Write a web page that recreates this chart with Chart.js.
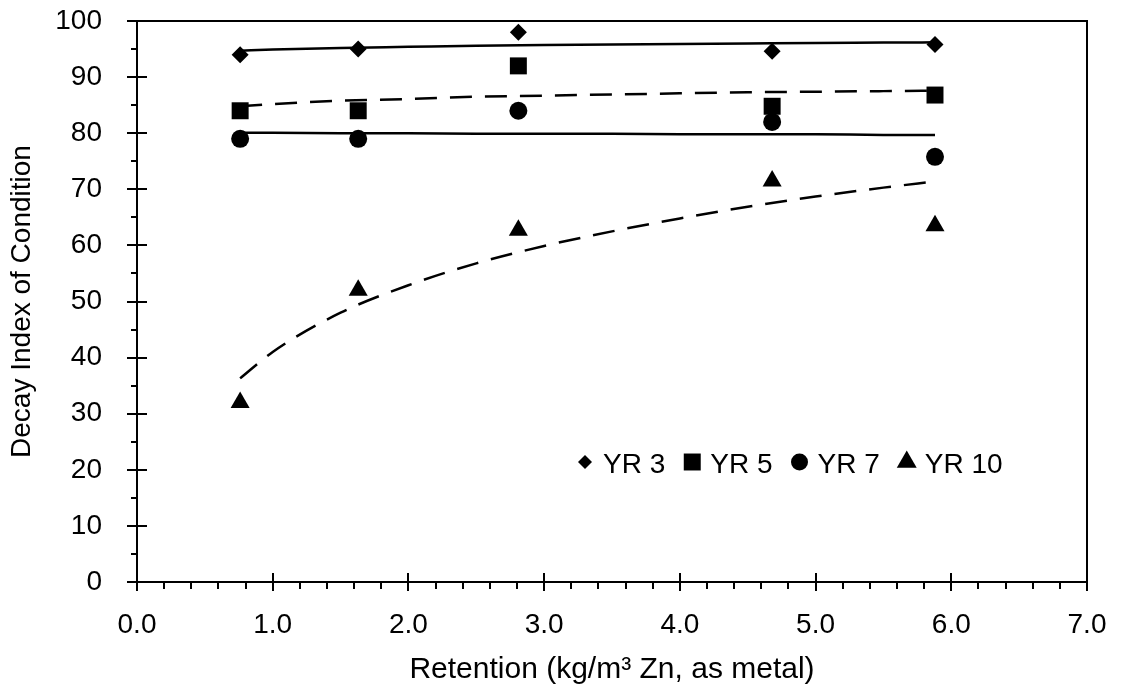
<!DOCTYPE html>
<html><head><meta charset="utf-8">
<script src="https://cdn.jsdelivr.net/npm/chart.js@4.4.1/dist/chart.umd.min.js"></script>
<style>html,body{margin:0;padding:0;background:#fff;}#wrap{width:1127px;height:694px;}</style>
</head><body><div id="wrap"><canvas id="c" width="1127" height="694"></canvas></div>
<script>
// ---- data ----
const retention = [0.76, 1.63, 2.81, 4.68, 5.88];
const yr3 = [94, 95, 98, 94.6, 95.8];
const yr5 = [84, 84, 92, 84.8, 86.8];
const yr7 = [79, 79, 84, 82, 75.8];
const yr10 = [32, 52, 62.7, 71.5, 63.5];
const seriesNames = ['YR 3', 'YR 5', 'YR 7', 'YR 10'];
// trend curves
const trendX = [0.76, 1.0, 1.5, 2.0, 2.5, 3.0, 3.5, 4.0, 4.5, 5.0, 5.5, 5.88];
const yr3Trend = [94.7, 94.9, 95.2, 95.4, 95.6, 95.7, 95.8, 95.9, 96.0, 96.1, 96.15, 96.2];
const yr5Trend = [84.8, 85.2, 85.8, 86.1, 86.5, 86.7, 86.9, 87.1, 87.3, 87.4, 87.5, 87.6];
const yr7Trend = [80.1, 80.1, 80.0, 80.0, 79.9, 79.9, 79.9, 79.8, 79.8, 79.8, 79.7, 79.7];
const yr10Trend = [36.3, 41.0, 48.0, 52.9, 56.8, 59.9, 62.5, 64.8, 66.9, 68.7, 70.3, 71.4];
const xTickLabels = ['0.0','1.0','2.0','3.0','4.0','5.0','6.0','7.0'];
const yTickLabels = ['0','10','20','30','40','50','60','70','80','90','100'];
const xTitle = 'Retention (kg/m\u00B3 Zn, as metal)';
const yTitle = 'Decay Index of Condition';

const FONT = 'Liberation Sans, Arial, sans-serif';
const pts = (xs, ys) => xs.map((x, i) => ({x: x, y: ys[i]}));
const styles = [
  {pointStyle: 'rectRot', radius: 8.5},
  {pointStyle: 'rect', radius: 12},
  {pointStyle: 'circle', radius: 9},
  {pointStyle: 'triangle', radius: 11}
];
const legendStyles = [
  {pointStyle: 'rectRot', radius: 7},
  {pointStyle: 'rect', radius: 12},
  {pointStyle: 'circle', radius: 8.5},
  {pointStyle: 'triangle', radius: 11.5}
];
const seriesVals = [yr3, yr5, yr7, yr10];
const trendVals = [yr3Trend, yr5Trend, yr7Trend, yr10Trend];
const trendDash = [[], [22, 13], [], [22, 13]];

const datasets = [];
seriesVals.forEach((v, i) => datasets.push({
  label: seriesNames[i], data: pts(retention, v), showLine: false,
  pointStyle: styles[i].pointStyle, pointRadius: styles[i].radius,
  backgroundColor: '#000', borderColor: '#000', pointBorderWidth: 0, order: 1
}));
trendVals.forEach((v, i) => datasets.push({
  label: seriesNames[i] + ' trend', data: pts(trendX, v), showLine: true,
  pointRadius: 0, borderColor: '#000', borderWidth: 2.5, borderDash: trendDash[i],
  cubicInterpolationMode: 'monotone', fill: false, order: 2
}));

function drawMarker(ctx, st, x, y) {
  ctx.fillStyle = '#000';
  if (Chart.helpers && Chart.helpers.drawPoint) {
    Chart.helpers.drawPoint(ctx, {pointStyle: st.pointStyle, radius: st.radius, rotation: 0, borderWidth: 0}, x, y);
  }
}

const framePlugin = {
  id: 'frame',
  afterDraw(chart) {
    const ctx = chart.ctx, a = chart.chartArea;
    const xs = chart.scales.x, ys = chart.scales.y;
    ctx.save();
    ctx.strokeStyle = '#000';
    ctx.lineWidth = 2;
    ctx.strokeRect(a.left, a.top, a.right - a.left, a.bottom - a.top);
    ctx.beginPath();
    for (let i = 0; i <= 20; i++) {
      const yp = Math.round(ys.getPixelForValue(i * 5));
      if (i % 2 === 0) { ctx.moveTo(a.left - 10, yp); ctx.lineTo(a.left + 10, yp); }
      else { ctx.moveTo(a.left - 6, yp); ctx.lineTo(a.left, yp); }
    }
    for (let i = 0; i <= 35; i++) {
      const xp = Math.round(xs.getPixelForValue(i * 0.2));
      if (i % 5 === 0) { ctx.moveTo(xp, a.bottom - 9); ctx.lineTo(xp, a.bottom + 9); }
      else { ctx.moveTo(xp, a.bottom); ctx.lineTo(xp, a.bottom + 7); }
    }
    ctx.stroke();
    ctx.font = '28px ' + FONT;
    ctx.textBaseline = 'alphabetic';
    ctx.textAlign = 'left';
    let mx = 585;
    const baseY = 473, my = 462;
    for (let i = 0; i < 4; i++) {
      drawMarker(ctx, legendStyles[i], mx, my);
      ctx.fillStyle = '#000';
      const tx = mx + 18;
      ctx.fillText(seriesNames[i], tx, baseY);
      mx = tx + ctx.measureText(seriesNames[i]).width + 27;
    }
    ctx.restore();
  }
};

new Chart(document.getElementById('c'), {
  type: 'scatter',
  data: {datasets: datasets},
  options: {
    responsive: false, animation: false, devicePixelRatio: 1,
    layout: {padding: {top: 21, right: 40, left: 0, bottom: 0}},
    plugins: {legend: {display: false}, tooltip: {enabled: false}},
    scales: {
      x: {
        type: 'linear', min: 0, max: 7,
        afterBuildTicks: s => { s.ticks = xTickLabels.map((t, i) => ({value: i})); },
        ticks: {callback: (v, i) => xTickLabels[i], font: {family: FONT, size: 28}, color: '#000', padding: 26, maxRotation: 0, autoSkip: false},
        grid: {display: false, drawTicks: false}, border: {display: false},
        title: {display: true, text: xTitle, font: {family: FONT, size: 30}, color: '#000', padding: {top: 0, bottom: 6}},
        afterFit: s => { s.height = 112; s.paddingLeft = 0; s.paddingRight = 0; }
      },
      y: {
        type: 'linear', min: 0, max: 100,
        afterBuildTicks: s => { s.ticks = yTickLabels.map((t, i) => ({value: i * 10})); },
        ticks: {callback: (v, i) => yTickLabels[i], font: {family: FONT, size: 28}, color: '#000', padding: 35, autoSkip: false},
        grid: {display: false, drawTicks: false}, border: {display: false},
        title: {display: true, text: yTitle, font: {family: FONT, size: 28}, color: '#000', padding: {top: 5, bottom: 0}},
        afterFit: s => { s.width = 137; s.paddingTop = 0; s.paddingBottom = 0; }
      }
    }
  },
  plugins: [framePlugin]
});
</script></body></html>
